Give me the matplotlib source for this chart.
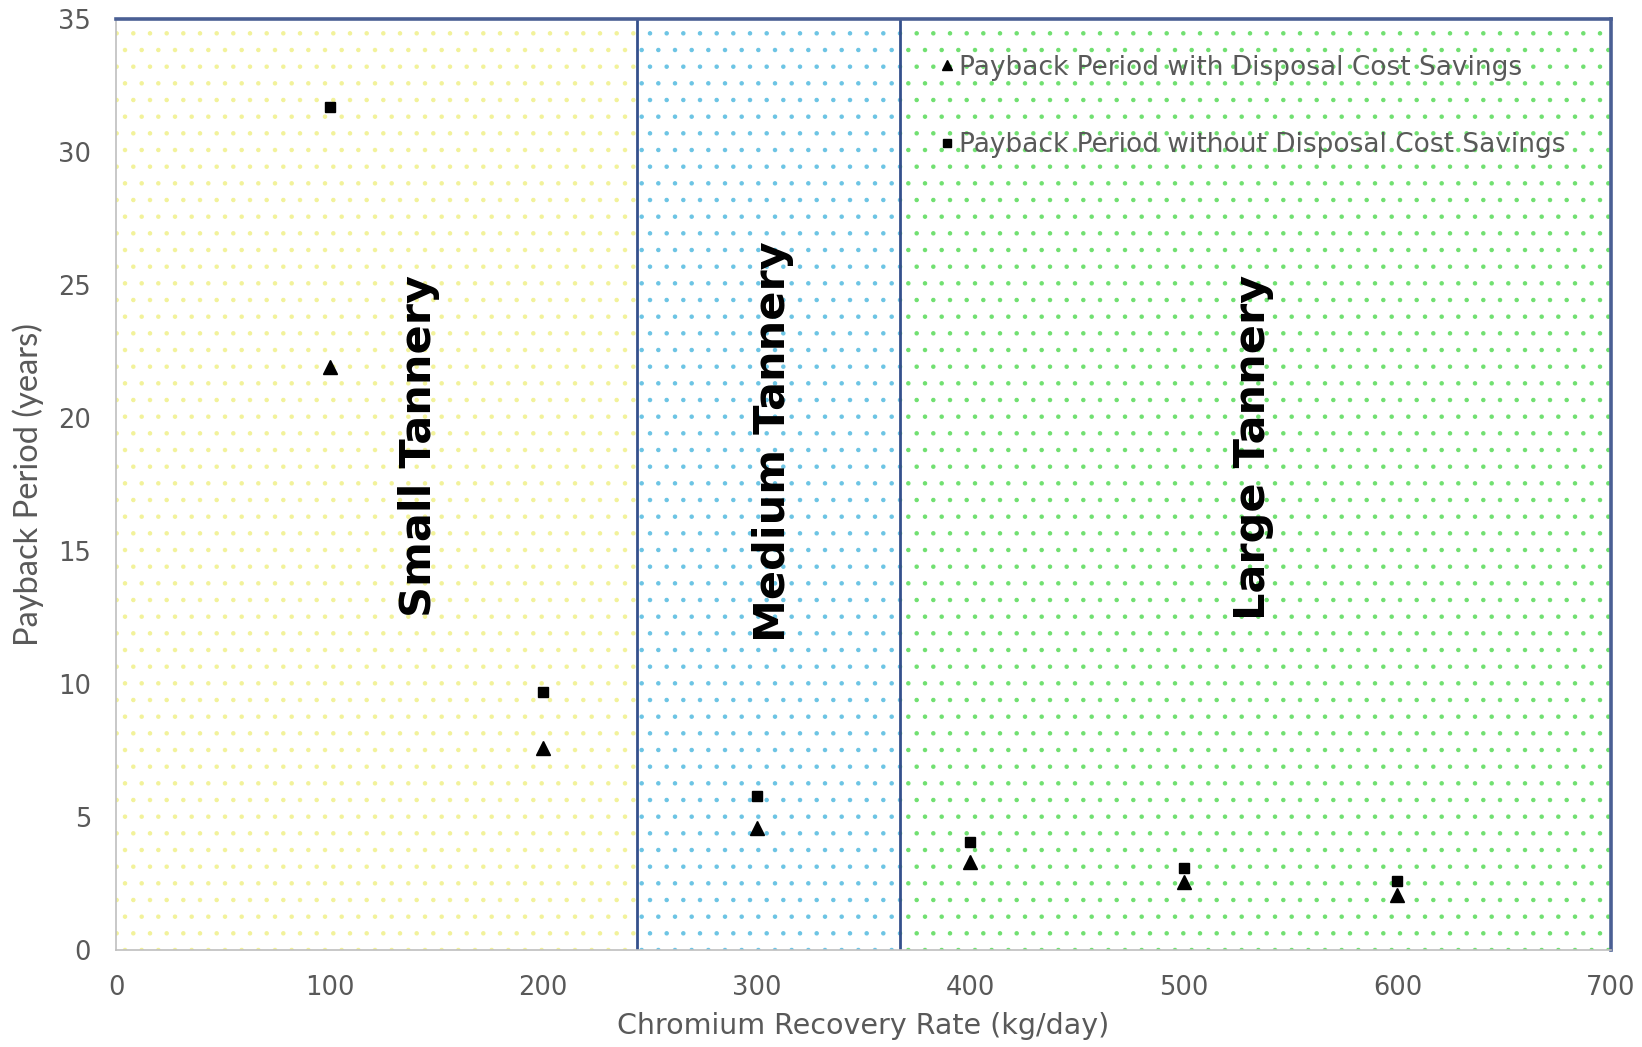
import matplotlib
matplotlib.use("Agg")
import matplotlib.pyplot as plt

# ---- data ----
recovery_rate = [100, 200, 300, 400, 500, 600]
payback_with_savings = [21.9, 7.6, 4.6, 3.3, 2.55, 2.05]
payback_without_savings = [31.7, 9.7, 5.8, 4.05, 3.1, 2.6]

region_names = ["Small Tannery", "Medium Tannery", "Large Tannery"]
region_bounds = [(0, 244), (244, 367), (367, 700)]
region_dot_colors = ["#f2f29a", "#6cc4e4", "#70e070"]
region_label_x = [142, 307.5, 532.5]
region_label_y = [18.95, 19.1, 18.9]

x_ticks = [0, 100, 200, 300, 400, 500, 600, 700]
y_ticks = [0, 5, 10, 15, 20, 25, 30, 35]

label_with = "Payback Period with Disposal Cost Savings"
label_without = "Payback Period without Disposal Cost Savings"

# ---- figure ----
W, H = 1642, 1047
fig = plt.figure(figsize=(W / 100, H / 100), dpi=100)
ax = fig.add_axes([116 / W, 1 - 950 / H, (1611 - 116) / W, (950 - 19) / H])

ax.set_xlim(0, 700)
ax.set_ylim(0, 35)

plt.rcParams['hatch.linewidth'] = 0.8
for (x0, x1), c in zip(region_bounds, region_dot_colors):
    ax.axvspan(x0, x1, facecolor="white", edgecolor=c, hatch=".", linewidth=0, zorder=0)

for x in [region_bounds[1][0], region_bounds[2][0]]:
    ax.axvline(x, color="#34508c", linewidth=2, zorder=1)

for name, lx, ly in zip(region_names, region_label_x, region_label_y):
    ax.text(lx, ly, name, rotation=90, ha="center", va="center",
            fontsize=31, fontweight="bold", family="DejaVu Sans", color="black", zorder=3)

ax.plot(recovery_rate, payback_with_savings, linestyle="none", marker="^",
        markersize=9.5, color="black", label=label_with, zorder=4)
ax.plot(recovery_rate, payback_without_savings, linestyle="none", marker="s",
        markersize=7.5, color="black", label=label_without, zorder=4)

ax.set_xticks(x_ticks)
ax.set_yticks(y_ticks)
ax.tick_params(length=0, labelsize=18.5, labelcolor="#595959", pad=18)

for side in ["left", "bottom"]:
    ax.spines[side].set_color("#bfbfbf")
    ax.spines[side].set_linewidth(1.2)
for side in ["top", "right"]:
    ax.spines[side].set_color("#4a5f94")
    ax.spines[side].set_linewidth(2.6)
for s in ax.spines.values():
    s.set_zorder(5)

ax.set_xlabel("Chromium Recovery Rate (kg/day)", fontsize=20.5, color="#595959", labelpad=8)
ax.set_ylabel("Payback Period (years)", fontsize=23.5, color="#595959", family="Lato", labelpad=10)

leg = ax.legend(loc="upper left", bbox_to_anchor=((927 - 116) / (1611 - 116), 1 - (44 - 19) / (950 - 19)),
                frameon=False, fontsize=19, labelspacing=1.95, handletextpad=0.1,
                handlelength=0.7, borderaxespad=0, markerscale=0.8)
for t in leg.get_texts():
    t.set_color("#595959")

fig.savefig("out.png", dpi=100, facecolor="white")
